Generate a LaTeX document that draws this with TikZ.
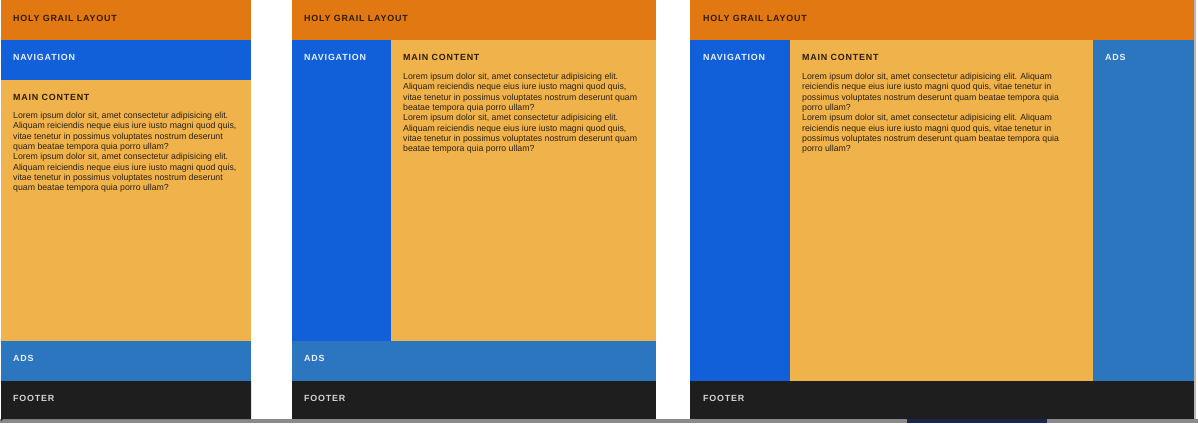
\documentclass[tikz,border=0pt]{standalone}
\usepackage{fontspec}
\setmainfont{Liberation Sans}
\newfontfamily\headfont{Liberation Sans}[LetterSpace=9]
\definecolor{hdrc}{HTML}{E27812}
\definecolor{navc}{HTML}{115FD9}
\definecolor{mainc}{HTML}{F0B24B}
\definecolor{adsc}{HTML}{2C76BF}
\definecolor{footc}{HTML}{1E1E1F}
\definecolor{darktext}{HTML}{2E1D0C}
\definecolor{bodytext}{HTML}{2B2214}
\definecolor{lighttext}{HTML}{EAF0FA}
\definecolor{foottext}{HTML}{D4D4D4}
\definecolor{edgegray}{HTML}{8A8A8A}
\definecolor{navyc}{HTML}{1A2550}
\tikzset{
  heading/.style={anchor=base west, inner sep=0pt, font=\headfont\bfseries\fontsize{8.9}{10}\selectfont},
  bodyline/.style={anchor=base west, inner sep=0pt, font=\fontsize{8.75}{10.35}\selectfont, text=bodytext},
}
\newcommand{\bodytextat}[4]{% x, y of first baseline, name prefix, list
  \foreach \t [count=\i from 0] in {#4} {
    \node[bodyline] (#3-\i) at (#1, #2+10.35*\i) {\t};
  }
}
\begin{document}
\begin{tikzpicture}[x=1pt,y=-1pt]
\useasboundingbox (0,0) rectangle (1198,423);
\fill[white] (0,0) rectangle (1198,423);
\fill[edgegray] (0,419) rectangle (1198,423);
\fill[navyc] (907,419) rectangle (1047,423);
\fill[edgegray!60] (1194,0) rectangle (1196,419);

% ---------- Panel 1 ----------
\fill[hdrc] (1,0) rectangle (251,40);
\fill[navc] (1,40) rectangle (251,80);
\fill[mainc] (1,80) rectangle (251,341);
\fill[adsc] (1,341) rectangle (251,381);
\fill[footc] (1,381) -- (251,381) -- (251,419) -- (4,419) arc[start angle=270, end angle=180, radius=3] -- cycle;
\node[heading, text=darktext] (p1h) at (13,21) {HOLY GRAIL LAYOUT};
\node[heading, text=lighttext] (p1n) at (13,60) {NAVIGATION};
\node[heading, text=darktext] (p1m) at (13,100) {MAIN CONTENT};
\bodytextat{13}{118.5}{p1b}{{Lorem ipsum dolor sit, amet consectetur adipisicing elit.},
 {Aliquam reiciendis neque eius iure iusto magni quod quis,},
 {vitae tenetur in possimus voluptates nostrum deserunt},
 {quam beatae tempora quia porro ullam?},
 {Lorem ipsum dolor sit, amet consectetur adipisicing elit.},
 {Aliquam reiciendis neque eius iure iusto magni quod quis,},
 {vitae tenetur in possimus voluptates nostrum deserunt},
 {quam beatae tempora quia porro ullam?}}
\node[heading, text=lighttext] (p1a) at (13,361) {ADS};
\node[heading, text=foottext] (p1f) at (13,401) {FOOTER};

% ---------- Panel 2 ----------
\fill[hdrc] (292,0) rectangle (656,40);
\fill[navc] (292,40) rectangle (391,341);
\fill[mainc] (391,40) rectangle (656,341);
\fill[adsc] (292,341) rectangle (656,381);
\fill[footc] (292,381) rectangle (656,419);
\node[heading, text=darktext] (p2h) at (304,21) {HOLY GRAIL LAYOUT};
\node[heading, text=lighttext] (p2n) at (304,60) {NAVIGATION};
\node[heading, text=darktext] (p2m) at (403,60) {MAIN CONTENT};
\bodytextat{403}{79.5}{p2b}{{Lorem ipsum dolor sit, amet consectetur adipisicing elit.},
 {Aliquam reiciendis neque eius iure iusto magni quod quis,},
 {vitae tenetur in possimus voluptates nostrum deserunt quam},
 {beatae tempora quia porro ullam?},
 {Lorem ipsum dolor sit, amet consectetur adipisicing elit.},
 {Aliquam reiciendis neque eius iure iusto magni quod quis,},
 {vitae tenetur in possimus voluptates nostrum deserunt quam},
 {beatae tempora quia porro ullam?}}
\node[heading, text=lighttext] (p2a) at (304,361) {ADS};
\node[heading, text=foottext] (p2f) at (304,401) {FOOTER};

% ---------- Panel 3 ----------
\fill[hdrc] (690,0) rectangle (1194,40);
\fill[navc] (690,40) rectangle (790,381);
\fill[mainc] (790,40) rectangle (1093,381);
\fill[adsc] (1093,40) rectangle (1194,381);
\fill[footc] (690,381) rectangle (1194,419);
\node[heading, text=darktext] (p3h) at (703,21) {HOLY GRAIL LAYOUT};
\node[heading, text=lighttext] (p3n) at (703,60) {NAVIGATION};
\node[heading, text=darktext] (p3m) at (802,60) {MAIN CONTENT};
\bodytextat{802}{79.5}{p3b}{{Lorem ipsum dolor sit, amet consectetur adipisicing elit. Aliquam},
 {reiciendis neque eius iure iusto magni quod quis, vitae tenetur in},
 {possimus voluptates nostrum deserunt quam beatae tempora quia},
 {porro ullam?},
 {Lorem ipsum dolor sit, amet consectetur adipisicing elit. Aliquam},
 {reiciendis neque eius iure iusto magni quod quis, vitae tenetur in},
 {possimus voluptates nostrum deserunt quam beatae tempora quia},
 {porro ullam?}}
\node[heading, text=lighttext] (p3a) at (1105,60) {ADS};
\node[heading, text=foottext] (p3f) at (703,401) {FOOTER};
\end{tikzpicture}
\end{document}
